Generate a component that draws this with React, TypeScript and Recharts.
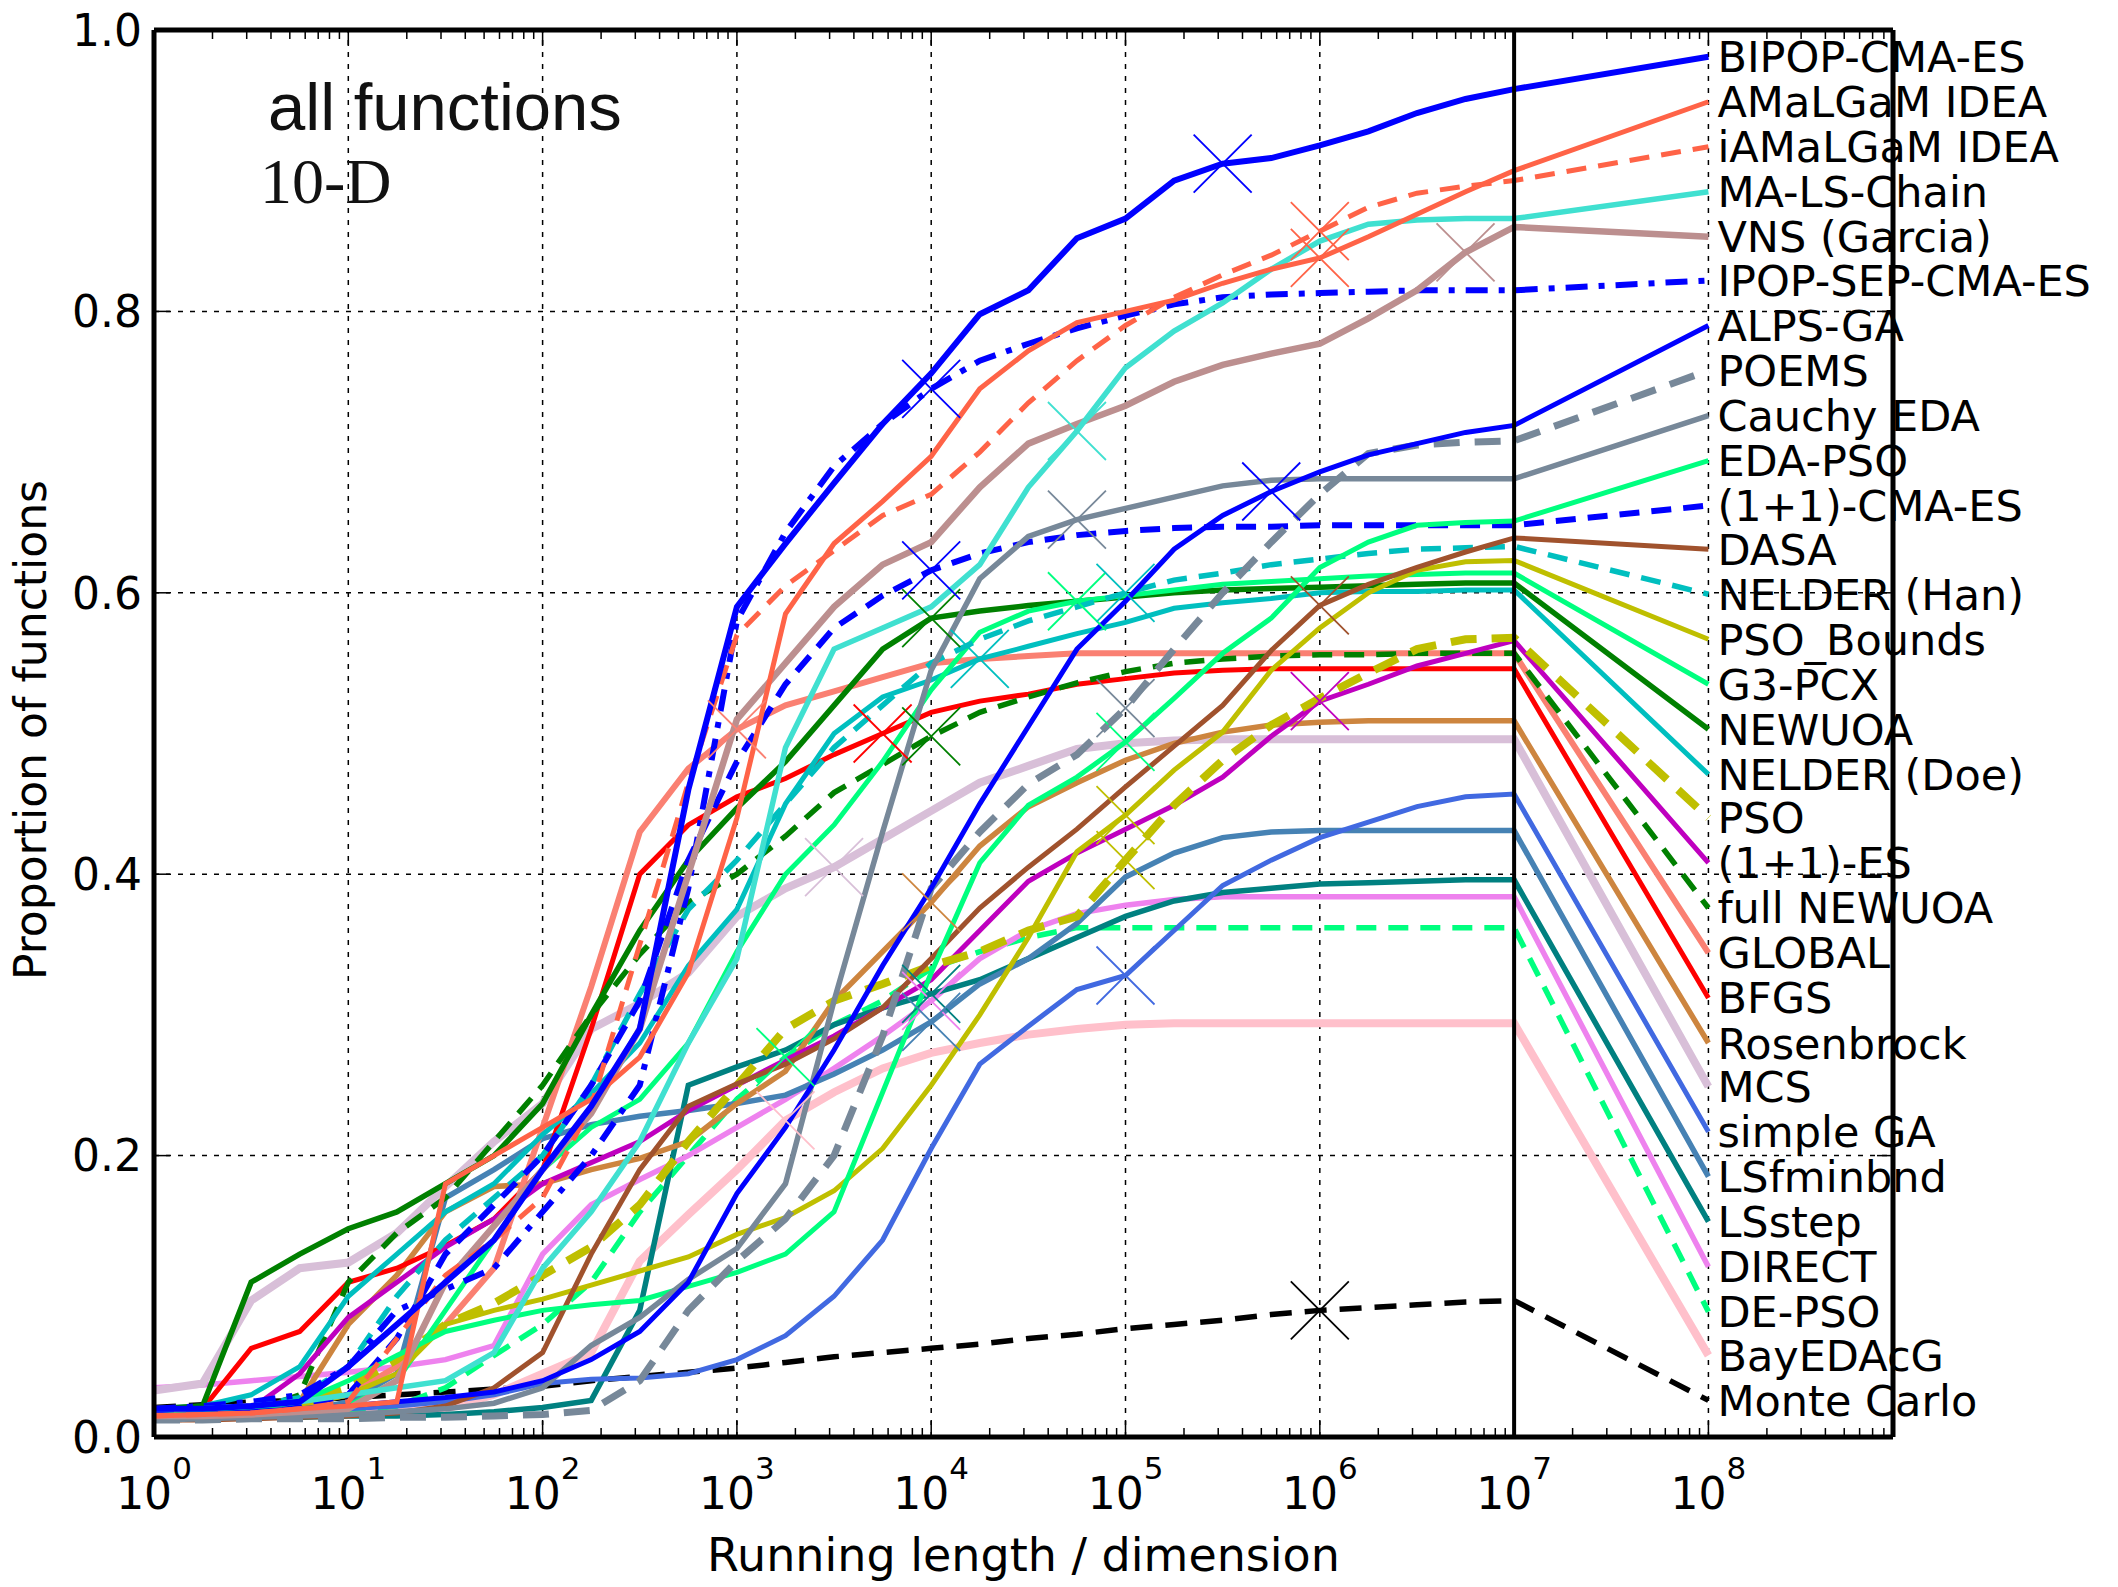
import React from 'react';
import { LineChart, Line, XAxis, YAxis, ReferenceLine } from 'recharts';

const W = 2118;
const H = 1587;
const PLOT = { left: 154, right: 1893, top: 30, bottom: 1437 };
const FONT = '"DejaVu Sans", sans-serif';

// log10(running length / dimension): quarter decades up to 1e7, then 1e8 where the names sit
const X_LOG = [
  0, 0.25, 0.5, 0.75, 1, 1.25, 1.5, 1.75, 2, 2.25, 2.5, 2.75, 3, 3.25, 3.5,
  3.75, 4, 4.25, 4.5, 4.75, 5, 5.25, 5.5, 5.75, 6, 6.25, 6.5, 6.75, 7, 8,
];
const X_MAX = 8.95;
const X_MAJOR = [0, 1, 2, 3, 4, 5, 6, 7, 8];
const Y_TICKS = [0, 0.2, 0.4, 0.6, 0.8, 1.0];

// proportion of functions solved, one value per X_LOG column
const bipop = [0.02, 0.02, 0.022, 0.025, 0.05, 0.08, 0.11, 0.14, 0.19, 0.235, 0.29, 0.46, 0.59, 0.635, 0.678, 0.72, 0.756, 0.798, 0.815, 0.852, 0.866, 0.893, 0.905, 0.909, 0.918, 0.928, 0.941, 0.951, 0.958, 0.981];
const amalgam = [0.015, 0.016, 0.017, 0.02, 0.022, 0.025, 0.18, 0.2, 0.22, 0.24, 0.27, 0.33, 0.44, 0.585, 0.635, 0.665, 0.697, 0.745, 0.772, 0.792, 0.8, 0.808, 0.82, 0.83, 0.838, 0.853, 0.869, 0.885, 0.9, 0.949];
const iamalgam = [0.015, 0.016, 0.017, 0.02, 0.025, 0.07, 0.115, 0.14, 0.17, 0.235, 0.35, 0.465, 0.57, 0.605, 0.63, 0.655, 0.67, 0.7, 0.735, 0.765, 0.79, 0.81, 0.826, 0.84, 0.857, 0.874, 0.884, 0.889, 0.893, 0.917];
const malsChain = [0.02, 0.02, 0.022, 0.025, 0.03, 0.035, 0.04, 0.06, 0.12, 0.16, 0.21, 0.28, 0.34, 0.49, 0.56, 0.575, 0.59, 0.62, 0.675, 0.715, 0.76, 0.786, 0.806, 0.83, 0.85, 0.862, 0.865, 0.866, 0.866, 0.885];
const vns = [0.015, 0.015, 0.016, 0.018, 0.02, 0.04, 0.11, 0.15, 0.19, 0.23, 0.29, 0.4, 0.51, 0.55, 0.59, 0.62, 0.636, 0.675, 0.706, 0.72, 0.733, 0.75, 0.762, 0.77, 0.777, 0.795, 0.815, 0.842, 0.86, 0.853];
const ipopSep = [0.02, 0.022, 0.025, 0.03, 0.05, 0.09, 0.105, 0.12, 0.16, 0.2, 0.25, 0.39, 0.58, 0.643, 0.69, 0.72, 0.745, 0.765, 0.777, 0.788, 0.797, 0.805, 0.81, 0.812, 0.813, 0.814, 0.815, 0.815, 0.815, 0.822];
const alpsGa = [0.015, 0.016, 0.018, 0.02, 0.022, 0.025, 0.028, 0.032, 0.04, 0.055, 0.075, 0.11, 0.173, 0.22, 0.275, 0.335, 0.39, 0.45, 0.505, 0.56, 0.594, 0.631, 0.655, 0.672, 0.686, 0.698, 0.706, 0.714, 0.719, 0.79];
const poems = [0.012, 0.012, 0.013, 0.013, 0.013, 0.014, 0.014, 0.015, 0.016, 0.019, 0.04, 0.09, 0.125, 0.155, 0.2, 0.285, 0.39, 0.43, 0.464, 0.485, 0.518, 0.56, 0.6, 0.636, 0.67, 0.699, 0.705, 0.707, 0.708, 0.758];
const cauchyEda = [0.012, 0.013, 0.014, 0.015, 0.016, 0.018, 0.02, 0.024, 0.035, 0.065, 0.085, 0.112, 0.134, 0.18, 0.31, 0.43, 0.545, 0.61, 0.64, 0.652, 0.66, 0.668, 0.676, 0.68, 0.681, 0.681, 0.681, 0.681, 0.681, 0.726];
const edaPso = [0.015, 0.017, 0.02, 0.025, 0.04, 0.058, 0.075, 0.083, 0.09, 0.094, 0.097, 0.107, 0.117, 0.13, 0.16, 0.245, 0.33, 0.408, 0.449, 0.469, 0.494, 0.525, 0.557, 0.582, 0.618, 0.636, 0.648, 0.65, 0.651, 0.694];
const cma11 = [0.018, 0.019, 0.02, 0.022, 0.03, 0.07, 0.13, 0.165, 0.2, 0.25, 0.31, 0.41, 0.48, 0.535, 0.575, 0.598, 0.616, 0.628, 0.636, 0.641, 0.644, 0.646, 0.647, 0.647, 0.648, 0.648, 0.648, 0.648, 0.648, 0.662];
const dasa = [0.012, 0.012, 0.013, 0.014, 0.015, 0.017, 0.022, 0.035, 0.06, 0.13, 0.19, 0.235, 0.251, 0.265, 0.283, 0.305, 0.34, 0.376, 0.405, 0.432, 0.462, 0.491, 0.52, 0.559, 0.591, 0.606, 0.618, 0.629, 0.639, 0.631];
const nelderHan = [0.02, 0.02, 0.022, 0.028, 0.05, 0.1, 0.14, 0.17, 0.2, 0.25, 0.315, 0.375, 0.41, 0.45, 0.49, 0.52, 0.55, 0.567, 0.58, 0.59, 0.6, 0.609, 0.614, 0.62, 0.624, 0.628, 0.631, 0.632, 0.633, 0.599];
const psoBounds = [0.015, 0.016, 0.018, 0.022, 0.03, 0.045, 0.08, 0.09, 0.098, 0.108, 0.118, 0.128, 0.144, 0.156, 0.175, 0.205, 0.25, 0.3, 0.355, 0.416, 0.442, 0.474, 0.501, 0.545, 0.575, 0.6, 0.616, 0.622, 0.623, 0.567];
const g3pcx = [0.015, 0.015, 0.016, 0.018, 0.022, 0.04, 0.09, 0.14, 0.19, 0.22, 0.24, 0.28, 0.345, 0.4, 0.435, 0.48, 0.531, 0.572, 0.587, 0.594, 0.598, 0.602, 0.606, 0.608, 0.61, 0.612, 0.613, 0.614, 0.614, 0.535];
const newuoa = [0.02, 0.022, 0.11, 0.13, 0.148, 0.16, 0.18, 0.2, 0.237, 0.3, 0.36, 0.41, 0.447, 0.48, 0.52, 0.56, 0.582, 0.587, 0.591, 0.594, 0.597, 0.6, 0.602, 0.603, 0.604, 0.605, 0.606, 0.607, 0.607, 0.503];
const nelderDoe = [0.02, 0.022, 0.03, 0.05, 0.1, 0.13, 0.16, 0.18, 0.215, 0.244, 0.28, 0.335, 0.375, 0.45, 0.5, 0.526, 0.538, 0.553, 0.562, 0.571, 0.579, 0.589, 0.593, 0.596, 0.6, 0.601, 0.601, 0.602, 0.602, 0.471];
const pso = [0.015, 0.016, 0.018, 0.025, 0.035, 0.055, 0.08, 0.095, 0.115, 0.135, 0.165, 0.21, 0.25, 0.29, 0.31, 0.322, 0.335, 0.345, 0.36, 0.37, 0.41, 0.449, 0.481, 0.506, 0.525, 0.543, 0.56, 0.567, 0.568, 0.44];
const es11 = [0.015, 0.016, 0.02, 0.045, 0.085, 0.11, 0.135, 0.155, 0.18, 0.195, 0.21, 0.232, 0.25, 0.268, 0.285, 0.305, 0.325, 0.36, 0.395, 0.415, 0.432, 0.449, 0.469, 0.498, 0.523, 0.535, 0.548, 0.557, 0.566, 0.408];
const fullNewuoa = [0.015, 0.016, 0.018, 0.03, 0.11, 0.145, 0.17, 0.21, 0.25, 0.3, 0.343, 0.38, 0.4, 0.427, 0.458, 0.478, 0.498, 0.515, 0.526, 0.536, 0.544, 0.55, 0.553, 0.555, 0.556, 0.556, 0.557, 0.557, 0.557, 0.376];
const global = [0.02, 0.02, 0.022, 0.025, 0.03, 0.05, 0.08, 0.12, 0.22, 0.32, 0.43, 0.475, 0.503, 0.52, 0.53, 0.54, 0.55, 0.553, 0.555, 0.557, 0.557, 0.557, 0.557, 0.557, 0.557, 0.557, 0.557, 0.557, 0.557, 0.344];
const bfgs = [0.02, 0.02, 0.063, 0.075, 0.11, 0.12, 0.136, 0.155, 0.19, 0.29, 0.4, 0.435, 0.455, 0.468, 0.485, 0.5, 0.515, 0.523, 0.528, 0.535, 0.539, 0.543, 0.545, 0.546, 0.546, 0.546, 0.546, 0.546, 0.546, 0.312];
const rosenbrock = [0.012, 0.013, 0.015, 0.025, 0.08, 0.115, 0.16, 0.178, 0.18, 0.19, 0.198, 0.21, 0.237, 0.26, 0.31, 0.345, 0.38, 0.42, 0.448, 0.465, 0.481, 0.493, 0.501, 0.506, 0.508, 0.509, 0.509, 0.509, 0.509, 0.28];
const mcs = [0.033, 0.038, 0.097, 0.12, 0.124, 0.145, 0.178, 0.21, 0.237, 0.29, 0.308, 0.33, 0.37, 0.39, 0.405, 0.425, 0.445, 0.465, 0.477, 0.489, 0.493, 0.495, 0.496, 0.496, 0.496, 0.496, 0.496, 0.496, 0.496, 0.249];
const simpleGa = [0.015, 0.016, 0.017, 0.018, 0.02, 0.022, 0.025, 0.03, 0.038, 0.041, 0.042, 0.045, 0.055, 0.072, 0.1, 0.14, 0.205, 0.265, 0.292, 0.318, 0.328, 0.36, 0.392, 0.41, 0.426, 0.437, 0.448, 0.455, 0.457, 0.217];
const lsFminbnd = [0.012, 0.013, 0.015, 0.018, 0.025, 0.045, 0.17, 0.19, 0.212, 0.222, 0.228, 0.232, 0.237, 0.243, 0.258, 0.275, 0.295, 0.322, 0.34, 0.365, 0.398, 0.415, 0.426, 0.43, 0.431, 0.431, 0.431, 0.431, 0.431, 0.185];
const lsStep = [0.013, 0.013, 0.014, 0.014, 0.015, 0.015, 0.016, 0.018, 0.021, 0.026, 0.09, 0.25, 0.263, 0.275, 0.293, 0.305, 0.315, 0.325, 0.34, 0.355, 0.37, 0.381, 0.387, 0.39, 0.393, 0.394, 0.395, 0.396, 0.396, 0.153];
const direct = [0.035, 0.037, 0.04, 0.043, 0.046, 0.05, 0.055, 0.065, 0.13, 0.165, 0.183, 0.2, 0.22, 0.24, 0.262, 0.285, 0.31, 0.34, 0.36, 0.372, 0.378, 0.382, 0.384, 0.384, 0.384, 0.384, 0.384, 0.384, 0.384, 0.121];
const dePso = [0.012, 0.013, 0.014, 0.016, 0.018, 0.022, 0.035, 0.058, 0.08, 0.11, 0.16, 0.2, 0.24, 0.27, 0.293, 0.31, 0.333, 0.345, 0.355, 0.362, 0.362, 0.362, 0.362, 0.362, 0.362, 0.362, 0.362, 0.362, 0.362, 0.089];
const bayEdacg = [0.015, 0.015, 0.016, 0.016, 0.017, 0.018, 0.02, 0.03, 0.045, 0.06, 0.125, 0.158, 0.19, 0.225, 0.245, 0.262, 0.273, 0.28, 0.286, 0.29, 0.293, 0.294, 0.294, 0.294, 0.294, 0.294, 0.294, 0.294, 0.294, 0.058];
const monteCarlo = [0.021, 0.023, 0.025, 0.026, 0.028, 0.03, 0.032, 0.034, 0.036, 0.04, 0.043, 0.046, 0.049, 0.053, 0.057, 0.06, 0.063, 0.066, 0.07, 0.073, 0.077, 0.08, 0.083, 0.087, 0.09, 0.092, 0.094, 0.096, 0.097, 0.026];

const NAMES = [
  'BIPOP-CMA-ES', 'AMaLGaM IDEA', 'iAMaLGaM IDEA', 'MA-LS-Chain', 'VNS (Garcia)',
  'IPOP-SEP-CMA-ES', 'ALPS-GA', 'POEMS', 'Cauchy EDA', 'EDA-PSO', '(1+1)-CMA-ES',
  'DASA', 'NELDER (Han)', 'PSO_Bounds', 'G3-PCX', 'NEWUOA', 'NELDER (Doe)', 'PSO',
  '(1+1)-ES', 'full NEWUOA', 'GLOBAL', 'BFGS', 'Rosenbrock', 'MCS', 'simple GA',
  'LSfminbnd', 'LSstep', 'DIRECT', 'DE-PSO', 'BayEDAcG', 'Monte Carlo',
];
const VALUES = [
  bipop, amalgam, iamalgam, malsChain, vns, ipopSep, alpsGa, poems, cauchyEda, edaPso,
  cma11, dasa, nelderHan, psoBounds, g3pcx, newuoa, nelderDoe, pso, es11, fullNewuoa,
  global, bfgs, rosenbrock, mcs, simpleGa, lsFminbnd, lsStep, direct, dePso, bayEdacg,
  monteCarlo,
];
// where each algorithm's cross marker sits (log10 x)
const MARKER_AT = [
  5.5, 6, 6, 4.75, 6.75, 4, 5.75, 5, 4.75, 5, 4, 6, 5, 5, 4.75, 4, 4.25, 5, 6, 4,
  3, 3.75, 4, 3.5, 5, 4, 4, 4, 3.25, 3.25, 6,
];

const DASH = '20 12';
const THICK_DASH = '26 15';
const DASH_DOT = '22 11 6 11';

const STYLES = [
  { color: '#0000ff', width: 6 },
  { color: '#ff6347', width: 5 },
  { color: '#ff6347', width: 5, dash: DASH },
  { color: '#40e0d0', width: 5.5 },
  { color: '#bc8f8f', width: 6.5 },
  { color: '#0000ff', width: 6, dash: DASH_DOT },
  { color: '#0000ff', width: 5 },
  { color: '#778899', width: 7, dash: THICK_DASH },
  { color: '#778899', width: 5.5 },
  { color: '#00ff7f', width: 5 },
  { color: '#0000ff', width: 6, dash: DASH },
  { color: '#a0522d', width: 5 },
  { color: '#00bfbf', width: 5.5, dash: DASH },
  { color: '#bfbf00', width: 5 },
  { color: '#00ff7f', width: 5 },
  { color: '#008000', width: 5.5 },
  { color: '#00bfbf', width: 5 },
  { color: '#bfbf00', width: 8, dash: THICK_DASH },
  { color: '#bf00bf', width: 5 },
  { color: '#008000', width: 5.5, dash: DASH },
  { color: '#fa8072', width: 6 },
  { color: '#ff0000', width: 5 },
  { color: '#cd853f', width: 5.5 },
  { color: '#d8bfd8', width: 8 },
  { color: '#4169e1', width: 5 },
  { color: '#4682b4', width: 5.5 },
  { color: '#008080', width: 5.5 },
  { color: '#ee82ee', width: 5.5 },
  { color: '#00ff7f', width: 5.5, dash: DASH },
  { color: '#ffc0cb', width: 8 },
  { color: '#000000', width: 5.5, dash: '22 13' },
];

const rows = X_LOG.map((x, i) => {
  const row: Record<string, number> = { x };
  VALUES.forEach((vals, s) => {
    row[`s${s}`] = vals[i];
  });
  return row;
});

// minor ticks at 2..9 within each decade
const X_TICKS: number[] = [];
for (let n = 0; n <= 8; n++) {
  for (let m = 1; m <= 9; m++) {
    const t = n + Math.log10(m);
    if (t <= X_MAX) X_TICKS.push(m === 1 ? n : t);
  }
}

const XTick = ({ x, y, payload }: any) => {
  const v = payload.value;
  const major = Number.isInteger(v);
  const len = major ? 16 : 9;
  return (
    <g>
      <line x1={x} x2={x} y1={y} y2={y - len} stroke="#000" strokeWidth={1.5} />
      <line x1={x} x2={x} y1={PLOT.top} y2={PLOT.top + len} stroke="#000" strokeWidth={1.5} />
      {major && (
        <text x={x} y={y + 72} textAnchor="middle" fontFamily={FONT} fontSize={44} fill="#000">
          <tspan>10</tspan>
          <tspan dy={-30} fontSize={31}>{v}</tspan>
        </text>
      )}
    </g>
  );
};

const YTick = ({ x, y, payload }: any) => (
  <g>
    <line x1={x} x2={x + 16} y1={y} y2={y} stroke="#000" strokeWidth={1.5} />
    <line x1={PLOT.right - 16} x2={PLOT.right} y1={y} y2={y} stroke="#000" strokeWidth={1.5} />
    <text x={x - 12} y={y} dy="0.36em" textAnchor="end" fontFamily={FONT} fontSize={44} fill="#000">
      {payload.value.toFixed(1)}
    </text>
  </g>
);

const makeDot = (s: number) => (p: any) => {
  const { cx, cy, index } = p;
  const key = `d${s}-${index}`;
  if (cx == null || cy == null) return <g key={key} />;
  if (index === X_LOG.length - 1) {
    return (
      <text key={key} x={cx + 9} y={cy} dy="0.36em" fontFamily={FONT} fontSize={43} fill="#000">
        {NAMES[s]}
      </text>
    );
  }
  if (X_LOG[index] === MARKER_AT[s]) {
    const r = 29;
    return (
      <g key={key} stroke={STYLES[s].color} strokeWidth={1.8}>
        <line x1={cx - r} y1={cy - r} x2={cx + r} y2={cy + r} />
        <line x1={cx - r} y1={cy + r} x2={cx + r} y2={cy - r} />
      </g>
    );
  }
  return <g key={key} />;
};

export default function App() {
  const order = NAMES.map((_, i) => i).reverse();
  return (
    <div style={{ position: 'absolute', left: 0, top: 0, width: W, height: H, background: '#fff' }}>
      <LineChart
        width={W}
        height={H}
        data={rows}
        margin={{ top: PLOT.top, right: W - PLOT.right, bottom: 0, left: 0 }}
      >
        <XAxis
          dataKey="x"
          type="number"
          domain={[0, X_MAX]}
          ticks={X_TICKS}
          interval={0}
          tickSize={0}
          tickMargin={0}
          axisLine={false}
          tickLine={false}
          height={H - PLOT.bottom}
          tick={(p: any) => <XTick {...p} />}
        />
        <YAxis
          type="number"
          domain={[0, 1]}
          ticks={Y_TICKS}
          interval={0}
          tickSize={0}
          tickMargin={0}
          axisLine={false}
          tickLine={false}
          width={PLOT.left}
          tick={(p: any) => <YTick {...p} />}
        />
        {X_MAJOR.slice(1).map((v) => (
          <ReferenceLine key={`gx${v}`} x={v} stroke="#000" strokeWidth={1.5} strokeDasharray="5 7" />
        ))}
        {Y_TICKS.slice(1, -1).map((v) => (
          <ReferenceLine key={`gy${v}`} y={v} stroke="#000" strokeWidth={1.5} strokeDasharray="5 7" />
        ))}
        {order.map((s) => (
          <Line
            key={NAMES[s]}
            dataKey={`s${s}`}
            type="linear"
            stroke={STYLES[s].color}
            strokeWidth={STYLES[s].width}
            strokeDasharray={STYLES[s].dash}
            dot={makeDot(s)}
            activeDot={false}
            isAnimationActive={false}
          />
        ))}
        <ReferenceLine x={7} stroke="#000" strokeWidth={4} />
        <ReferenceLine x={0} stroke="#000" strokeWidth={5} />
        <ReferenceLine x={X_MAX} stroke="#000" strokeWidth={5} />
        <ReferenceLine y={0} stroke="#000" strokeWidth={5} />
        <ReferenceLine y={1} stroke="#000" strokeWidth={5} />
      </LineChart>
      <svg
        width={W}
        height={H}
        style={{ position: 'absolute', left: 0, top: 0, pointerEvents: 'none' }}
      >
        <text x={268} y={130} fontFamily='"Liberation Sans", Arial, sans-serif' fontSize={67} fill="#111">
          all functions
        </text>
        <text x={260} y={203} fontFamily='"Liberation Serif", serif' fontSize={64} fill="#111">
          10-D
        </text>
        <text x={(PLOT.left + PLOT.right) / 2} y={1571} textAnchor="middle" fontFamily={FONT} fontSize={46} fill="#000">
          Running length / dimension
        </text>
        <text
          transform="translate(46, 730) rotate(-90)"
          textAnchor="middle"
          fontFamily={FONT}
          fontSize={44}
          fill="#000"
        >
          Proportion of functions
        </text>
      </svg>
    </div>
  );
}
